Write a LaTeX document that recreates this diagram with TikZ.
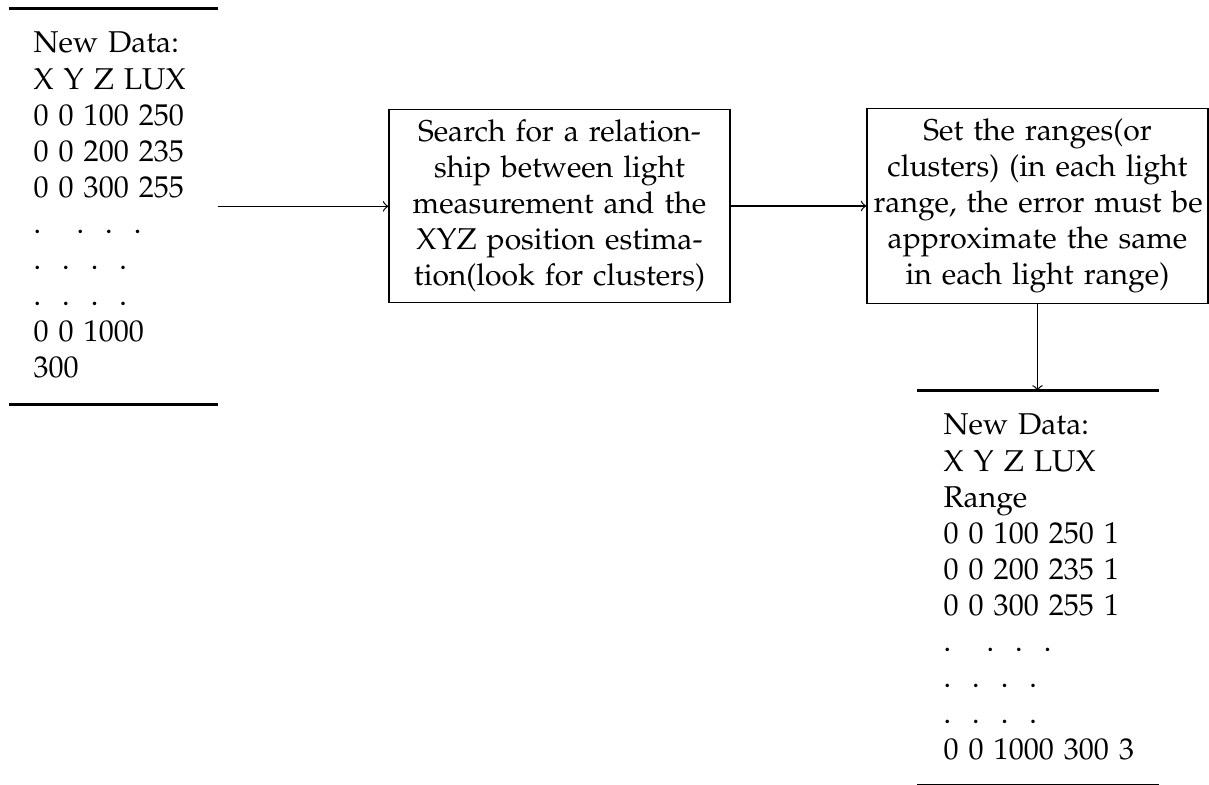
\documentclass[tikz,border=0pt]{standalone}
\usepackage[T1]{fontenc}
\usepackage{mathpazo}
\usetikzlibrary{fit}

% rows of ellipsis dots inside the data listings
\newcommand\dotrowA{.\hspace{11.8pt}.\hspace{7pt}.\hspace{7pt}.}
\newcommand\dotrowB{.\hspace{7pt}.\hspace{7pt}.\hspace{7pt}.}

\begin{document}
\begin{tikzpicture}[
  x=0.33245pt, y=-0.33245pt,
  stepbox/.style={draw, line width=0.4pt, rectangle, text width=3.75cm,
                  align=center, inner sep=0.3333em},
  widestep/.style={stepbox, text width=109pt, inner xsep=2.2pt},
  datatext/.style={anchor=base west, inner sep=0pt, text width=200pt, align=left},
  frame/.style={inner sep=0pt},
  heavyrule/.style={line width=1pt},
  lightrule/.style={line width=0.5pt},
  flow/.style={->, line width=0.4pt}
]
\useasboundingbox (0,0) rectangle (1209,785);

% input listing
\node[datatext] (intxt) at (33,53) {New Data:\\X Y Z LUX\\0 0 100 250\\0 0 200 235\\0 0 300 255\\\dotrowA\\\dotrowB\\\dotrowB\\0 0 1000\\300};
\node[frame, fit={(10,8.7) (217,404)}] (intab) {};
\draw[heavyrule] (intab.north west) -- (intab.north east);
\draw[heavyrule] (intab.south west) -- (intab.south east);

% processing steps
\node[stepbox] (search) at (559.5,206) {Search for a relationship between light measurement and the XYZ position estimation(look for clusters)};
\node[widestep] (ranges) at (1037.5,206) {\mbox{Set the ranges(or}\\\mbox{clusters) (in each light}\\\mbox{range, the error must be}\\\mbox{approximate the same}\\\mbox{in each light range)}};

% output listing
\node[datatext] (outtxt) at (943,435) {New Data:\\X Y Z LUX\\Range\\0 0 100 250 1\\0 0 200 235 1\\0 0 300 255 1\\\dotrowA\\\dotrowB\\\dotrowB\\0 0 1000 300 3};
\node[frame, fit={(918,391.3) (1158,784.2)}] (outtab) {};
\draw[heavyrule] (outtab.north west) -- (outtab.north east);
\draw[lightrule] (outtab.south west) -- (outtab.south east);

% connectors
\draw[flow] (intab.east) -- (intab.east -| search.west);
\draw[flow] (search.east) -- (search.east -| ranges.west);
\draw[flow] (ranges.south) -- (ranges.south |- outtab.north);
\end{tikzpicture}
\end{document}
